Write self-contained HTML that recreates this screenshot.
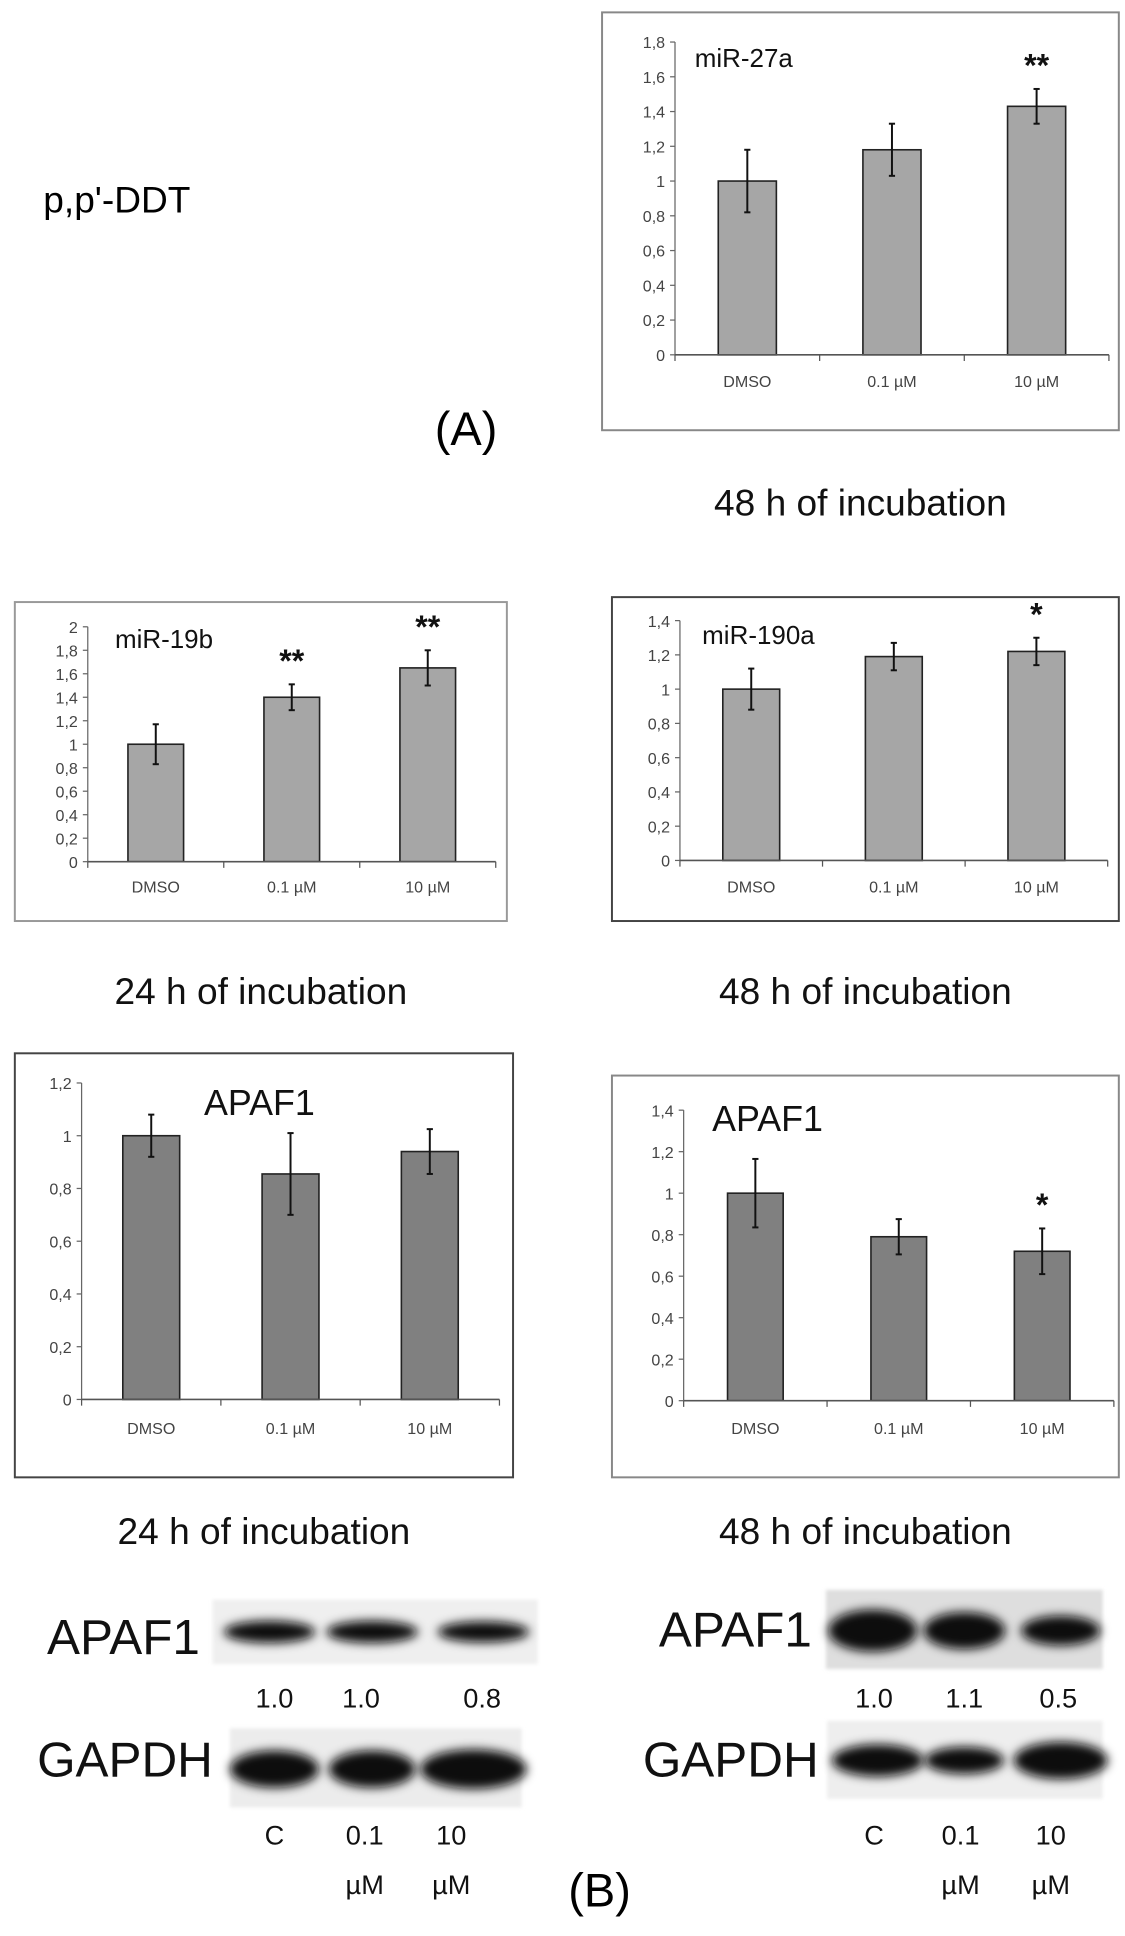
<!DOCTYPE html>
<html><head><meta charset="utf-8"><style>
html,body{margin:0;padding:0;background:#fff;}
svg{display:block;}
text{font-family:"Liberation Sans",sans-serif;}
</style></head><body>
<svg id="fig" xmlns="http://www.w3.org/2000/svg" width="1125" height="1936" viewBox="0 0 910 1566">
<defs><filter id="blur" x="-30%" y="-80%" width="160%" height="260%"><feGaussianBlur stdDeviation="4"/></filter>
<filter id="blur2"><feGaussianBlur stdDeviation="1.5"/></filter></defs>
<text x="35" y="172" font-size="30">p,p'-DDT</text>
<text x="377" y="360" font-size="38" text-anchor="middle">(A)</text>
<text x="485" y="1542" font-size="38" text-anchor="middle">(B)</text>
<g id="charts"></g>
<g id="blots"></g>
</svg>
<script>
const categories = ["DMSO", "0.1 µM", "10 µM"];
const mir27aValues = [1.0, 1.18, 1.43];
const mir27aErrors = [0.18, 0.15, 0.10];
const mir27aStars = ["", "", "**"];
const mir19bValues = [1.0, 1.40, 1.65];
const mir19bErrors = [0.17, 0.11, 0.15];
const mir19bStars = ["", "**", "**"];
const mir190aValues = [1.0, 1.19, 1.22];
const mir190aErrors = [0.12, 0.08, 0.08];
const mir190aStars = ["", "", "*"];
const apaf24Values = [1.0, 0.855, 0.94];
const apaf24Errors = [0.08, 0.155, 0.085];
const apaf24Stars = ["", "", ""];
const apaf48Values = [1.0, 0.79, 0.72];
const apaf48Errors = [0.165, 0.085, 0.11];
const apaf48Stars = ["", "", "*"];
const ticks18 = [0,0.2,0.4,0.6,0.8,1,1.2,1.4,1.6,1.8];
const ticks20 = [0,0.2,0.4,0.6,0.8,1,1.2,1.4,1.6,1.8,2];
const ticks14 = [0,0.2,0.4,0.6,0.8,1,1.2,1.4];
const ticks12 = [0,0.2,0.4,0.6,0.8,1,1.2];
const blotNumbers24 = ["1.0","1.0","0.8"];
const blotNumbers48 = ["1.0","1.1","0.5"];
const laneLabels = ["C","0.1","10"];

const NS = "http://www.w3.org/2000/svg";
function mk(tag, attrs, parent){const e=document.createElementNS(NS,tag);for(const k in attrs)e.setAttribute(k,attrs[k]);parent.appendChild(e);return e;}
function fmt(v){return (Math.round(v*10)/10).toString().replace(".",",");}

const chartsG=document.getElementById("charts");
function drawChart(cfg){
  const g=mk("g",{},chartsG);
  
  
  const b=mk("rect",{x:cfg.box[0],y:cfg.box[1],width:cfg.box[2]-cfg.box[0],height:cfg.box[3]-cfg.box[1],fill:"#fff",stroke:cfg.boxStroke,"stroke-width":1.6},g);
  
  
  const yScale=v=>cfg.y0-(v/cfg.ymax)*(cfg.y0-cfg.yTop);
  const band=(cfg.axisEnd-cfg.axisX)/categories.length;
  const xCenter=i=>cfg.axisX+band*(i+0.5);
  const ax=mk("line",{x1:cfg.axisX,y1:yScale(cfg.ymax),x2:cfg.axisX,y2:cfg.y0,stroke:"#666","stroke-width":1},g);
  
  
  cfg.ticks.forEach(t=>{
    const y=yScale(t);
    const tl=mk("line",{x1:cfg.axisX-4,y1:y,x2:cfg.axisX,y2:y,stroke:"#666","stroke-width":1},g);
    
    
    const tx=mk("text",{x:cfg.axisX-8,y:y+5,"font-size":13,fill:"#444","text-anchor":"end"},g);
    tx.textContent=fmt(t);
    
    
  });
  categories.forEach((c,i)=>{
    const x=xCenter(i), v=cfg.values[i], e=cfg.errors[i];
    const r=mk("rect",{x:x-cfg.barW/2,y:yScale(v),width:cfg.barW,height:cfg.y0-yScale(v),fill:cfg.color,stroke:"#222","stroke-width":1.3},g);
    
    
    const el=mk("line",{x1:x,y1:yScale(v+e),x2:x,y2:yScale(v-e),stroke:"#111","stroke-width":1.6},g);
    
    
    [v+e,v-e].forEach(w=>{
      const cap=mk("line",{x1:x-2.5,y1:yScale(w),x2:x+2.5,y2:yScale(w),stroke:"#111","stroke-width":1.6},g);
      
      
    });
    const lt=mk("text",{x:x,y:cfg.labelY,"font-size":13,fill:"#444","text-anchor":"middle"},g);
    lt.textContent=c;
    
    
    if(cfg.stars[i]){
      const st=mk("text",{x:x,y:yScale(v+e)-10,"font-size":26,"font-weight":"bold",fill:"#111","text-anchor":"middle"},g);
      st.textContent=cfg.stars[i];
      
      
    }
  });
  const xa=mk("line",{x1:cfg.axisX,y1:cfg.y0,x2:cfg.axisEnd,y2:cfg.y0,stroke:"#555","stroke-width":1.3},g);
  
  
  for(let i=0;i<=categories.length;i++){
    const tk=mk("line",{x1:cfg.axisX+band*i,y1:cfg.y0,x2:cfg.axisX+band*i,y2:cfg.y0+5,stroke:"#555","stroke-width":1},g);
    
    
  }
  const tt=mk("text",{x:cfg.titleX,y:cfg.titleY,"font-size":cfg.titleSize,fill:"#111"},g);
  tt.textContent=cfg.title;
  
  
  const cap=mk("text",{x:(cfg.box[0]+cfg.box[2])/2,y:cfg.captionY,"font-size":30,fill:"#111","text-anchor":"middle"},g);
  cap.textContent=cfg.caption;
  
  
}

drawChart({name:"chart-mir-27a",box:[487,10,905,348],boxStroke:"#888",axisX:546,axisEnd:897,yTop:34,y0:287,ymax:1.8,ticks:ticks18,labelY:313,values:mir27aValues,errors:mir27aErrors,stars:mir27aStars,barW:47,color:"#a6a6a6",title:"miR-27a",titleX:562,titleY:54,titleSize:21,caption:"48 h of incubation",captionY:417});
drawChart({name:"chart-mir-19b",box:[12,487,410,745],boxStroke:"#999",axisX:71,axisEnd:401,yTop:507,y0:697,ymax:2,ticks:ticks20,labelY:722,values:mir19bValues,errors:mir19bErrors,stars:mir19bStars,barW:45,color:"#a6a6a6",title:"miR-19b",titleX:93,titleY:524,titleSize:21,caption:"24 h of incubation",captionY:812});
drawChart({name:"chart-mir-190a",box:[495,483,905,745],boxStroke:"#444",axisX:550,axisEnd:896,yTop:502,y0:696,ymax:1.4,ticks:ticks14,labelY:722,values:mir190aValues,errors:mir190aErrors,stars:mir190aStars,barW:46,color:"#a6a6a6",title:"miR-190a",titleX:568,titleY:521,titleSize:21,caption:"48 h of incubation",captionY:812});
drawChart({name:"chart-apaf1-24h",box:[12,852,415,1195],boxStroke:"#444",axisX:66,axisEnd:404,yTop:876,y0:1132,ymax:1.2,ticks:ticks12,labelY:1160,values:apaf24Values,errors:apaf24Errors,stars:apaf24Stars,barW:46,color:"#808080",title:"APAF1",titleX:165,titleY:902,titleSize:29,caption:"24 h of incubation",captionY:1249});
drawChart({name:"chart-apaf1-48h",box:[495,870,905,1195],boxStroke:"#888",axisX:553,axisEnd:901,yTop:898,y0:1133,ymax:1.4,ticks:ticks14,labelY:1160,values:apaf48Values,errors:apaf48Errors,stars:apaf48Stars,barW:45,color:"#808080",title:"APAF1",titleX:576,titleY:915,titleSize:29,caption:"48 h of incubation",captionY:1249});

const blotsG=document.getElementById("blots");
function blot(name,x0,y0,x1,y1,bandY,lanes,widths,heights,bg){
  const g=mk("g",{},blotsG);
  
  
  const r=mk("rect",{x:x0,y:y0,width:x1-x0,height:y1-y0,fill:bg,filter:"url(#blur2)"},g);
  
  
  lanes.forEach((lx,i)=>{
    const e=mk("ellipse",{cx:lx,cy:bandY,rx:widths[i]/2,ry:heights[i]/2,fill:"#0a0a0a",filter:"url(#blur)"},g);
    
    
  });
}
function label(txt,x,y,size,name,anchor){
  const t=mk("text",{x:x,y:y,"font-size":size,fill:"#111","text-anchor":anchor||"start"},blotsG);
  t.textContent=txt;
  
  
}
label("APAF1",38,1338,40,"blot-label-apaf1-24h");
blot("blot-apaf1-24h",172,1294,435,1346,1320,[218,301,391],[74,74,74],[18,18,17],"#efefef");
blotNumbers24.forEach((n,i)=>label(n,[222,292,390][i],1381,22,"blot-ratio","middle"));
label("GAPDH",30,1437,40,"blot-label-gapdh-24h");
blot("blot-gapdh-24h",186,1398,422,1462,1431,[222,301,383],[72,70,86],[30,30,32],"#ececec");
laneLabels.forEach((n,i)=>{label(n,[222,295,365][i],1492,22,"lane-label","middle");});
label("µM",295,1532,22,"lane-unit","middle");label("µM",365,1532,22,"lane-unit","middle");
label("APAF1",533,1332,40,"blot-label-apaf1-48h");
blot("blot-apaf1-48h",668,1286,892,1350,1319,[706,780,858],[72,66,64],[34,30,24],"#dedede");
blotNumbers48.forEach((n,i)=>label(n,[707,780,856][i],1381,22,"blot-ratio","middle"));
label("GAPDH",520,1437,40,"blot-label-gapdh-48h");
blot("blot-gapdh-48h",669,1392,892,1455,1424,[710,780,858],[74,64,76],[26,22,30],"#eeeeee");
laneLabels.forEach((n,i)=>{label(n,[707,777,850][i],1492,22,"lane-label","middle");});
label("µM",777,1532,22,"lane-unit","middle");label("µM",850,1532,22,"lane-unit","middle");
</script>
</body></html>
